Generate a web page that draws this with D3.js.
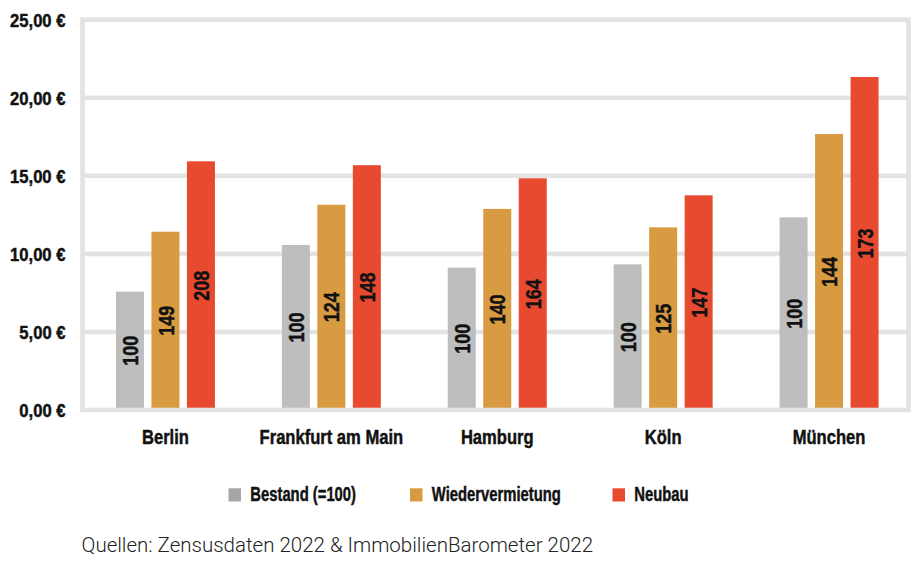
<!DOCTYPE html>
<html>
<head>
<meta charset="utf-8">
<script src="https://cdn.jsdelivr.net/npm/d3@7"></script>
<style>
  html, body { margin: 0; padding: 0; background: #fff; }
  svg { display: block; }
  .cond { font-family: "Liberation Sans", Arial, sans-serif; font-weight: bold; stroke: #111; stroke-width: 0.45px; paint-order: stroke; }
</style>
</head>
<body>
<svg id="chart" width="918" height="588"></svg>
<script>
// ---- data ----
const categories = ["Berlin", "Frankfurt am Main", "Hamburg", "Köln", "München"];
const seriesNames = ["Bestand (=100)", "Wiedervermietung", "Neubau"];
const bestand = [7.58, 10.57, 9.12, 9.33, 12.34];
const wiedervermietung = [11.42, 13.15, 12.88, 11.70, 17.68];
const neubau = [15.93, 15.68, 14.84, 13.75, 21.33];
const bestandIndex = [100, 100, 100, 100, 100];
const wiedervermietungIndex = [149, 124, 140, 125, 144];
const neubauIndex = [208, 148, 164, 147, 173];
const yTicks = [0, 5, 10, 15, 20, 25];
const source = "Quellen: Zensusdaten 2022 & ImmobilienBarometer 2022";

const seriesValues = [bestand, wiedervermietung, neubau];
const seriesIndex = [bestandIndex, wiedervermietungIndex, neubauIndex];
const barColors = ["#bdbebd", "#d99b42", "#e84a30"];
const legendColors = ["#a6a6a6", "#d99b42", "#e84a30"];

const svg = d3.select("#chart");
const frame = { left: 82.5, right: 908.5, top: 19.7, bottom: 410 };

const y = d3.scaleLinear().domain([0, 25]).range([frame.bottom, frame.top]);
const x = d3.scaleBand().domain(categories).range([82.5, 912]).padding(0);
const xs = d3.scaleBand().domain(d3.range(3)).range([-49.5, 49.5]).paddingInner(0.211).paddingOuter(0);

const gridColor = "#e2e3e2";
const gridW = 4.6;

// gridlines
svg.append("g").selectAll("line")
  .data(yTicks.filter(t => t > 0 && t < 25))
  .join("line")
  .attr("x1", frame.left).attr("x2", frame.right)
  .attr("y1", d => y(d)).attr("y2", d => y(d))
  .attr("stroke", gridColor).attr("stroke-width", gridW);

// bars
const rows = [];
categories.forEach((c, i) => {
  seriesValues.forEach((arr, s) => {
    rows.push({ cat: c, s, v: arr[i], idx: seriesIndex[s][i] });
  });
});

const gBars = svg.append("g");
gBars.selectAll("rect")
  .data(rows)
  .join("rect")
  .attr("x", d => x(d.cat) + x.bandwidth() / 2 + xs(d.s))
  .attr("width", xs.bandwidth())
  .attr("y", d => y(d.v))
  .attr("height", d => y(0) - y(d.v))
  .attr("fill", d => barColors[d.s]);

// in-bar labels
gBars.selectAll("text")
  .data(rows)
  .join("text")
  .attr("class", "cond")
  .attr("transform", d => {
    const cx = x(d.cat) + x.bandwidth() / 2 + xs(d.s) + xs.bandwidth() / 2;
    const cy = (y(d.v) + y(0)) / 2;
    return `translate(${cx},${cy}) rotate(-90) scale(0.8,1)`;
  })
  .attr("text-anchor", "middle")
  .attr("dy", "0.36em")
  .attr("font-size", 22.5)
  .attr("fill", "#111")
  .text(d => d.idx);

// frame
svg.append("rect")
  .attr("x", frame.left).attr("y", frame.top)
  .attr("width", frame.right - frame.left)
  .attr("height", frame.bottom - frame.top)
  .attr("fill", "none")
  .attr("stroke", gridColor).attr("stroke-width", gridW);

// y axis labels
const fmt = v => d3.format(".2f")(v).replace(".", ",") + " €";
const yAxis = d3.axisLeft(y).tickValues(yTicks).tickFormat(fmt).tickSize(0).tickPadding(0);
const gy = svg.append("g").attr("transform", "translate(65.5,0)").call(yAxis);
gy.select(".domain").remove();
gy.attr("font-family", null);
gy.selectAll("text")
  .attr("class", "cond")
  .attr("font-size", 18.5)
  .attr("fill", "#111")
  .attr("x", 0)
  .attr("dy", "0.36em")
  .attr("transform", "scale(0.9,1)");

// x axis labels
const xAxis = d3.axisBottom(x).tickSize(0).tickPadding(0);
const gx = svg.append("g").attr("transform", "translate(0,443.5)").call(xAxis);
gx.select(".domain").remove();
gx.attr("font-family", null);
gx.selectAll("text")
  .attr("class", "cond")
  .attr("font-size", 19.5)
  .attr("fill", "#111")
  .attr("dy", 0)
  .attr("y", 0)
  .attr("transform", "scale(0.85,1)");

// legend
const legendX = [228.5, 410, 612.5];
const lg = svg.append("g").selectAll("g")
  .data(seriesNames)
  .join("g")
  .attr("transform", (d, i) => `translate(${legendX[i]},0)`);
lg.append("rect")
  .attr("x", 0).attr("y", 488.3)
  .attr("width", 12.5).attr("height", 13.2)
  .attr("fill", (d, i) => legendColors[i]);
lg.append("text")
  .attr("class", "cond")
  .attr("transform", "translate(21.8,500.7) scale(0.76,1)")
  .attr("font-size", 19.5)
  .attr("fill", "#111")
  .text(d => d);

// source
svg.append("text")
  .attr("x", 81.5)
  .attr("y", 551.7)
  .attr("font-family", "Roboto, 'Liberation Sans', sans-serif")
  .attr("font-weight", 300)
  .attr("font-size", 20.5)
  .attr("fill", "#222")
  .text(source);
</script>
</body>
</html>
